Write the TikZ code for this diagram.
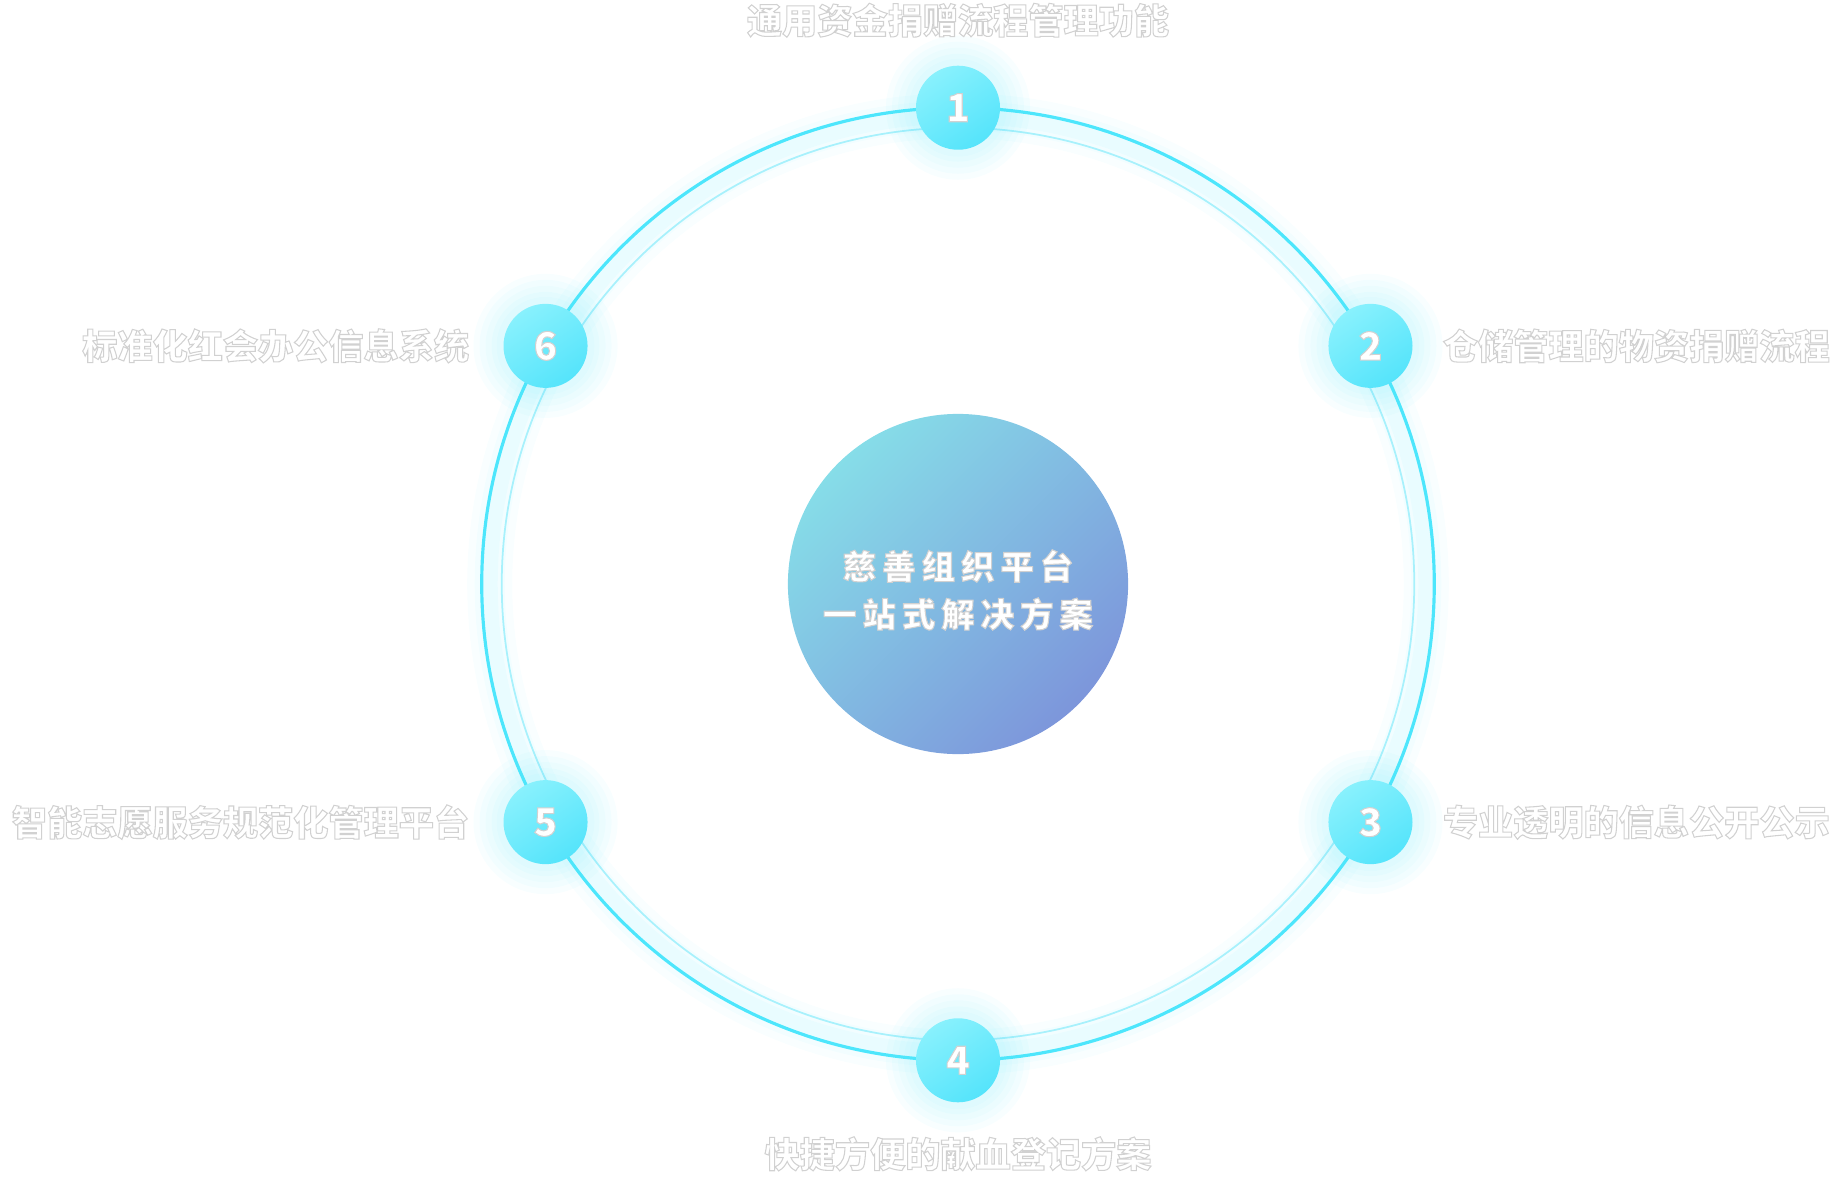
\documentclass[tikz,border=0pt]{standalone}
\usepackage{fontspec}
\newfontfamily\cjk{Noto Sans CJK SC}
\newfontfamily\cjkwide{Noto Sans CJK SC}[LetterSpace=18]
\usetikzlibrary{positioning,calc}

\definecolor{anillo}{HTML}{4DE6FC}
\definecolor{anilloclaro}{HTML}{A8F1FC}
\definecolor{brillo}{HTML}{5EE8FB}
\definecolor{numclaro}{HTML}{88F1FD}
\definecolor{numoscuro}{HTML}{55E4FB}
\definecolor{centroA}{HTML}{86DDE8}
\definecolor{centroB}{HTML}{7D96DB}

% texto blanco con contorno gris
\newcommand\sombra[1]{{\color{white}%
  \special{pdf:literal direct 2 Tr 0.3 w 0.82 G}#1%
  \special{pdf:literal direct 0 Tr}}}

\tikzset{
  numero/.style={circle, minimum size=8.4mm, inner sep=0pt,
    top color=numclaro, bottom color=numoscuro, shading angle=35,
    font=\cjk\bfseries\fontsize{11}{11}\selectfont},
  centro/.style={circle, minimum size=3.4cm, inner sep=0pt,
    top color=centroA, bottom color=centroB, shading angle=45},
  centrotexto/.style={align=center, inner sep=0pt,
    font=\cjkwide\bfseries\fontsize{9.5}{13.6}\selectfont},
  rotulo/.style={inner sep=0pt, font=\cjk\bfseries\fontsize{10}{10}\selectfont}
}

\begin{document}
\begin{tikzpicture}[x=0.01cm, y=-0.01cm]

\useasboundingbox (0,0) rectangle (1839,1179);
\coordinate (o) at (958,584);

% resplandor del anillo
\foreach \w/\op in {4.5/0.035, 3/0.04, 1.6/0.05}
  \draw[anillo, opacity=\op, line width=\w mm] (o) circle (4.68cm);

% anillos
\draw[anillo, line width=0.9pt] (o) circle (4.76cm);
\draw[anilloclaro, line width=0.5pt] (o) circle (4.56cm);

% resplandor de los numeros
\foreach \ang in {90,30,-30,-90,-150,150}
  \foreach \r in {7.2,6.6,6.0,5.4,4.9}
    \fill[brillo, opacity=0.045] ($(o)+(\ang:4.76cm)$) circle (\r mm);

% numeros
\foreach \i/\ang in {1/90, 2/30, 3/-30, 4/-90, 5/-150, 6/150}
  \node[numero] (n\i) at ($(o)+(\ang:4.76cm)$) {\sombra{\i}};

% circulo central
\node[centro] (hub) at (o) {};
\node[centrotexto] (hubtxt) at ([yshift=-0.06cm]hub.center)
  {\sombra{慈善组织平台}\\\sombra{一站式解决方案}};

% rotulos
\node[rotulo, above=0.27cm of n1] (t1) {\sombra{通用资金捐赠流程管理功能}};
\node[rotulo, right=0.29cm of n2] (t2) {\sombra{仓储管理的物资捐赠流程}};
\node[rotulo, right=0.29cm of n3] (t3) {\sombra{专业透明的信息公开公示}};
\node[rotulo, below=0.33cm of n4] (t4) {\sombra{快捷方便的献血登记方案}};
\node[rotulo, left=0.33cm of n5] (t5) {\sombra{智能志愿服务规范化管理平台}};
\node[rotulo, left=0.33cm of n6] (t6) {\sombra{标准化红会办公信息系统}};

\end{tikzpicture}
\end{document}
